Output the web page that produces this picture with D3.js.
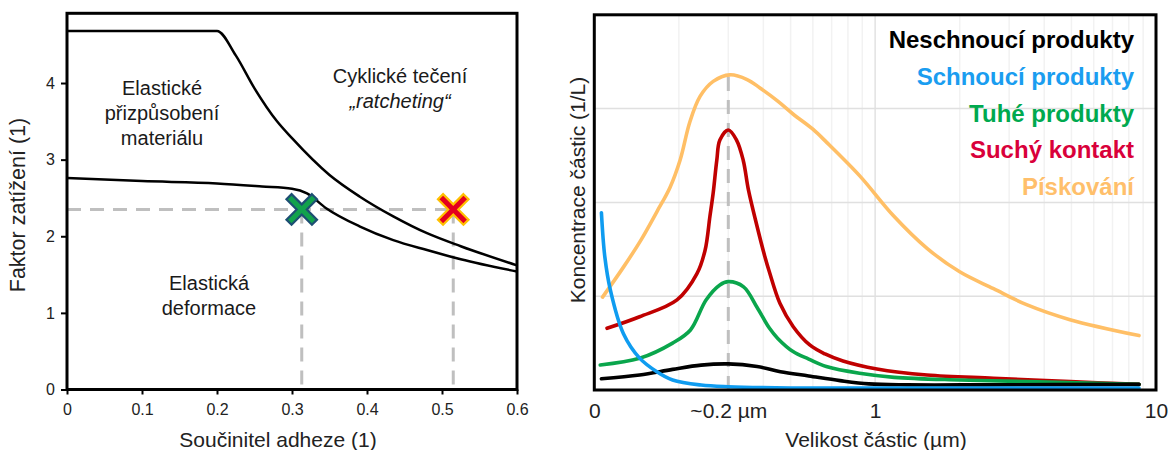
<!DOCTYPE html>
<html>
<head>
<meta charset="utf-8">
<script src="https://cdn.jsdelivr.net/npm/d3@7"></script>
<style>
  body { margin: 0; background: #fff; }
  svg { display: block; font-family: "Liberation Sans", Arial, sans-serif; }
</style>
</head>
<body>
<div id="chart"></div>
<script>
// ---- left panel: load factor vs adhesion coefficient ----
const upperX = [0, 0.2, 0.225, 0.25, 0.28, 0.30, 0.35, 0.39, 0.435, 0.48, 0.525, 0.6];
const upperY = [4.68, 4.68, 4.36, 3.93, 3.50, 3.28, 2.80, 2.52, 2.26, 2.04, 1.87, 1.62];
const lowerX = [0, 0.1, 0.2, 0.26, 0.3, 0.32, 0.345, 0.39, 0.435, 0.48, 0.525, 0.6];
const lowerY = [2.76, 2.72, 2.69, 2.65, 2.62, 2.56, 2.37, 2.13, 1.95, 1.82, 1.70, 1.54];
const markerX = [0.313, 0.515];
const markerY = 2.35;
const leftXTicks = [0, 0.1, 0.2, 0.3, 0.4, 0.5, 0.6];
const leftYTicks = [0, 1, 2, 3, 4];

// ---- right panel: particle concentration vs particle size ----
const blackX = [0.106, 0.145, 0.19, 0.24, 0.3, 0.38, 0.46, 0.58, 0.75, 0.95, 1.3, 2.5, 8.7];
const blackY = [0.12, 0.16, 0.22, 0.265, 0.278, 0.25, 0.195, 0.15, 0.10, 0.065, 0.055, 0.055, 0.06];
const blueX = [0.106, 0.109, 0.114, 0.127, 0.145, 0.167, 0.19, 0.24, 0.3, 0.5, 1, 3, 8.7];
const blueY = [1.89, 1.42, 1.07, 0.60, 0.34, 0.195, 0.107, 0.053, 0.035, 0.022, 0.02, 0.02, 0.02];
const greenX = [0.105, 0.145, 0.19, 0.22, 0.25, 0.28, 0.3, 0.34, 0.38, 0.42, 0.45, 0.51, 0.58, 0.67, 0.88, 1.17, 2, 3.5, 8.7];
const greenY = [0.267, 0.338, 0.50, 0.64, 0.96, 1.12, 1.155, 1.10, 0.88, 0.66, 0.55, 0.41, 0.33, 0.25, 0.178, 0.135, 0.107, 0.089, 0.06];
const redX = [0.111, 0.145, 0.197, 0.232, 0.248, 0.258, 0.265, 0.273, 0.28, 0.3, 0.321, 0.339, 0.354, 0.378, 0.405, 0.42, 0.458, 0.511, 0.585, 0.663, 0.768, 1.015, 1.53, 2.64, 4.95, 8.7];
const redY = [0.658, 0.781, 0.96, 1.24, 1.49, 1.85, 2.10, 2.45, 2.665, 2.772, 2.665, 2.45, 2.13, 1.77, 1.42, 1.26, 0.924, 0.675, 0.48, 0.384, 0.309, 0.224, 0.16, 0.125, 0.089, 0.06];
const orangeX = [0.107, 0.127, 0.146, 0.167, 0.186, 0.202, 0.219, 0.238, 0.265, 0.304, 0.35, 0.389, 0.45, 0.511, 0.6, 0.672, 0.883, 1.16, 1.53, 2.0, 2.64, 3.46, 4.94, 8.7];
const orangeY = [0.99, 1.31, 1.59, 1.90, 2.16, 2.45, 2.86, 3.13, 3.29, 3.36, 3.31, 3.22, 3.08, 2.94, 2.78, 2.64, 2.28, 1.86, 1.51, 1.26, 1.08, 0.91, 0.75, 0.58];
const seriesNames = ["Neschnoucí produkty", "Schnoucí produkty", "Tuhé produkty", "Suchý kontakt", "Pískování"];
const lineColors = ["#000000", "#0f9cf0", "#0aa64c", "#c00000", "#ffbf66"];
const textColors = ["#000000", "#1a9df0", "#00a94f", "#d9003a", "#ffbf6b"];
const sizeTicks = [0.1, 0.3, 1, 10];
const sizeTickLabels = ["0", "~0.2 µm", "1", "10"];
const peakSize = 0.3;

const width = 1171, height = 450;
const svg = d3.select("#chart").append("svg").attr("width", width).attr("height", height);

// ================= left chart =================
const xL = d3.scaleLinear().domain([0, 0.6]).range([67, 517]);
const yL = d3.scaleLinear().domain([0, 4.91]).range([389.5, 13.3]);
const left = svg.append("g");

left.append("g")
  .attr("transform", `translate(0,${yL(0)})`)
  .call(d3.axisBottom(xL).tickValues(leftXTicks).tickSize(5).tickPadding(9)
    .tickFormat(d => d === 0 ? "0" : d3.format(".1f")(d)))
  .call(g => g.select(".domain").remove())
  .call(g => g.selectAll("line").attr("stroke", "#000").attr("stroke-width", 2))
  .call(g => g.selectAll("text").attr("font-size", 16).attr("font-family", "Liberation Sans, Arial").attr("fill", "#222"));

left.append("g")
  .attr("transform", `translate(${xL(0)},0)`)
  .call(d3.axisLeft(yL).tickValues(leftYTicks).tickSize(6).tickPadding(6).tickFormat(d3.format("d")))
  .call(g => g.select(".domain").remove())
  .call(g => g.selectAll("line").attr("stroke", "#000").attr("stroke-width", 2))
  .call(g => g.selectAll("text").attr("font-size", 16).attr("font-family", "Liberation Sans, Arial").attr("fill", "#222"));

// dashed guides
const guide = left.append("g").attr("stroke", "#bfbfbf").attr("stroke-width", 3)
  .attr("stroke-dasharray", "14,9").attr("fill", "none");
guide.append("line").attr("x1", xL(0)).attr("x2", xL(markerX[1]))
  .attr("y1", yL(markerY)).attr("y2", yL(markerY));
markerX.forEach(mx => {
  guide.append("line").attr("x1", xL(mx)).attr("x2", xL(mx))
    .attr("y1", yL(markerY)).attr("y2", yL(0));
});

const lineL = d3.line().x(d => xL(d[0])).y(d => yL(d[1])).curve(d3.curveMonotoneX);
left.append("path").datum(d3.zip(upperX, upperY)).attr("d", lineL)
  .attr("fill", "none").attr("stroke", "#000").attr("stroke-width", 2.5);
left.append("path").datum(d3.zip(lowerX, lowerY)).attr("d", lineL)
  .attr("fill", "none").attr("stroke", "#000").attr("stroke-width", 2.5);

// X markers
const a = 18, w = 3.6;
const crossPts = [[-w,-a],[w,-a],[w,-w],[a,-w],[a,w],[w,w],[w,a],[-w,a],[-w,w],[-a,w],[-a,-w],[-w,-w]];
const crossPath = "M" + crossPts.map(p => p.join(",")).join("L") + "Z";
const markerFill = ["#12a24c", "#e4001e"];
const markerStroke = ["#1d4f73", "#ffc000"];
markerX.forEach((mx, i) => {
  left.append("path").attr("d", crossPath)
    .attr("transform", `translate(${xL(mx)},${yL(markerY)}) rotate(45)`)
    .attr("fill", markerFill[i]).attr("stroke", markerStroke[i]).attr("stroke-width", 2.2)
    .attr("stroke-linejoin", "miter");
});

// region labels
const labelL = (lines, cx, y0, italicIdx) => {
  lines.forEach((t, i) => {
    left.append("text").attr("x", cx).attr("y", y0 + i * 25).attr("text-anchor", "middle")
      .attr("font-size", 20).attr("fill", "#1a1a1a")
      .attr("font-style", i === italicIdx ? "italic" : "normal").text(t);
  });
};
labelL(["Elastické", "přizpůsobení", "materiálu"], 162, 95, -1);
labelL(["Cyklické tečení", "„ratcheting“"], 400, 83, 1);
labelL(["Elastická", "deformace"], 209, 290, -1);

left.append("rect").attr("x", xL(0)).attr("y", yL.range()[1])
  .attr("width", xL(0.6) - xL(0)).attr("height", yL(0) - yL.range()[1])
  .attr("fill", "none").attr("stroke", "#000").attr("stroke-width", 3);

left.append("text").attr("x", 278).attr("y", 447).attr("text-anchor", "middle")
  .attr("font-size", 21).attr("fill", "#222").text("Součinitel adheze (1)");
left.append("text").attr("transform", "translate(25,205) rotate(-90)").attr("text-anchor", "middle")
  .attr("font-size", 21.5).attr("fill", "#222").text("Faktor zatížení (1)");

// ================= right chart =================
const xR = d3.scaleLog().domain([0.1, 10]).range([594.3, 1156]);
const yR = d3.scaleLinear().domain([0, 4]).range([390, 14.8]);
const right = svg.append("g");

// grid
const minor = [];
[0.1, 1].forEach(dec => { for (let k = 2; k <= 9; k++) minor.push(dec * k); });
right.append("g").selectAll("line").data(minor).join("line")
  .attr("x1", d => xR(d)).attr("x2", d => xR(d)).attr("y1", yR(0)).attr("y2", yR(4))
  .attr("stroke", "#f2f2f2").attr("stroke-width", 1.5);
right.append("line").attr("x1", xR(1)).attr("x2", xR(1)).attr("y1", yR(0)).attr("y2", yR(4))
  .attr("stroke", "#e2e2e2").attr("stroke-width", 1.5);
right.append("g").selectAll("line").data([1, 2, 3]).join("line")
  .attr("x1", xR(0.1)).attr("x2", xR(10)).attr("y1", d => yR(d)).attr("y2", d => yR(d))
  .attr("stroke", "#e0e0e0").attr("stroke-width", 1.5);

// peak guide
right.append("line").attr("x1", xR(peakSize)).attr("x2", xR(peakSize))
  .attr("y1", yR(0)).attr("y2", yR(d3.max(orangeY)))
  .attr("stroke", "#bfbfbf").attr("stroke-width", 3).attr("stroke-dasharray", "14,9");

const lineR = d3.line().x(d => xR(d[0])).y(d => yR(d[1])).curve(d3.curveCatmullRom.alpha(0.5));
const seriesData = [
  d3.zip(blackX, blackY), d3.zip(blueX, blueY), d3.zip(greenX, greenY),
  d3.zip(redX, redY), d3.zip(orangeX, orangeY)
];
const drawOrder = [4, 3, 2, 0, 1];
drawOrder.forEach(i => {
  right.append("path").datum(seriesData[i]).attr("d", lineR)
    .attr("fill", "none").attr("stroke", lineColors[i]).attr("stroke-width", 3.6)
    .attr("stroke-linecap", "round");
});

// legend
seriesNames.forEach((n, i) => {
  right.append("text").attr("x", 1134).attr("y", 48.3 + i * 36.7).attr("text-anchor", "end")
    .attr("font-size", 24).attr("font-weight", "bold").attr("fill", textColors[i]).text(n);
});

right.append("rect").attr("x", xR(0.1)).attr("y", yR(4))
  .attr("width", xR(10) - xR(0.1)).attr("height", yR(0) - yR(4))
  .attr("fill", "none").attr("stroke", "#000").attr("stroke-width", 3);

right.append("g")
  .attr("transform", `translate(0,${yR(0)})`)
  .call(d3.axisBottom(xR).tickValues(sizeTicks).tickSize(0).tickPadding(13)
    .tickFormat((d, i) => sizeTickLabels[i]))
  .call(g => g.select(".domain").remove())
  .call(g => g.selectAll("text").attr("font-size", 21).attr("font-family", "Liberation Sans, Arial").attr("fill", "#222"));

right.append("text").attr("x", 876).attr("y", 447).attr("text-anchor", "middle")
  .attr("font-size", 21).attr("fill", "#222").text("Velikost částic (µm)");
right.append("text").attr("transform", "translate(585,190) rotate(-90)").attr("text-anchor", "middle")
  .attr("font-size", 21).attr("fill", "#222").text("Koncentrace částic (1/L)");
</script>
</body>
</html>
